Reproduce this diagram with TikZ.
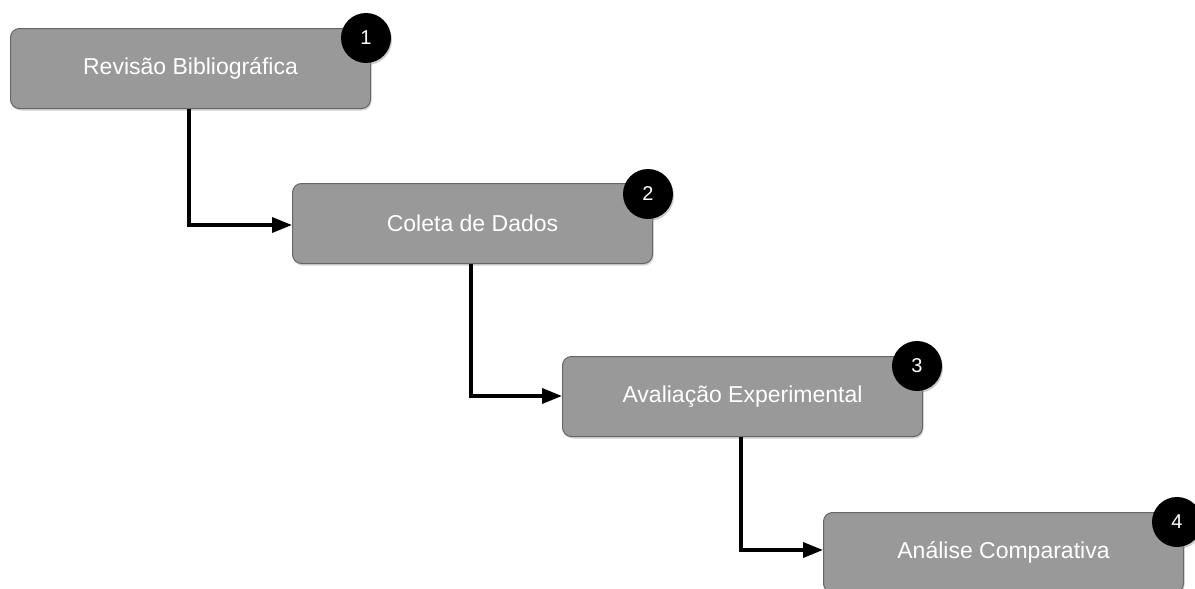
\documentclass[tikz,border=0pt]{standalone}
\usepackage{fontspec}
\setmainfont{Liberation Sans}
\usetikzlibrary{shadows,arrows.meta}
\definecolor{boxfill}{HTML}{999999}
\definecolor{boxline}{HTML}{666666}
\begin{document}
\begin{tikzpicture}[x=1pt,y=-1pt,
  stepbox/.style={draw=boxline, line width=1pt, fill=boxfill, rounded corners=9pt,
    minimum width=360pt, minimum height=80pt, anchor=north west, inner sep=0pt,
    text=white, font=\fontsize{23}{27}\selectfont,
    drop shadow={shadow xshift=1pt, shadow yshift=-2pt, fill=black!35, opacity=0.5}},
  badge/.style={circle, fill=black, minimum size=50pt, inner sep=0pt, text=white,
    font=\fontsize{20}{24}\selectfont,
    drop shadow={shadow xshift=1pt, shadow yshift=-2pt, fill=black!40, opacity=0.5}},
  conn/.style={line width=3.5pt, -{Triangle[length=20pt,width=15pt]}}]
\useasboundingbox (0,0) rectangle (1195,589);
\node[stepbox] (b1) at (10,28) {Revisão Bibliográfica};
\node[stepbox] (b2) at (292,183) {Coleta de Dados};
\node[stepbox] (b3) at (562,356) {Avaliação Experimental};
\node[stepbox] (b4) at (823,512) {Análise Comparativa};
\node[badge] (n1) at (366,38) {1};
\node[badge] (n2) at (648,194) {2};
\node[badge] (n3) at (917,366) {3};
\node[badge] (n4) at (1177,522) {4};
\coordinate (c1) at (189,225);
\coordinate (c2) at (471,396);
\coordinate (c3) at (741,550);
\draw[conn] (b1.south -| c1) -- (c1) -- (c1 -| b2.west);
\draw[conn] (b2.south -| c2) -- (c2) -- (c2 -| b3.west);
\draw[conn] (b3.south -| c3) -- (c3) -- (c3 -| b4.west);
\end{tikzpicture}
\end{document}
